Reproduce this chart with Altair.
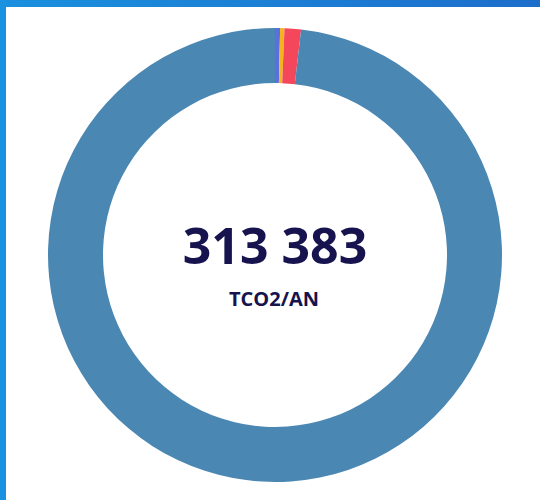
import altair as alt
import pandas as pd

categories = ["Catégorie A", "Catégorie B", "Catégorie C", "Catégorie D"]
values = [1130, 960, 3660, 307633]
colors = ["#5b6fe0", "#f6b31a", "#f4475b", "#4b87b3"]
total_label = ["313 383"]
unit_label = ["TCO2/AN"]

df = pd.DataFrame({"cat": categories, "value": values, "idx": list(range(len(categories)))})

W, H = 540, 500
CX, CY = 275, 255

frame_top = alt.Chart(pd.DataFrame({"k": [0]})).mark_rect(
    color=alt.Gradient(
        gradient="linear",
        stops=[alt.GradientStop(color="#1a90de", offset=0),
               alt.GradientStop(color="#1d6ecb", offset=1)],
        x1=0, x2=1, y1=0, y2=0,
    )
).encode(x=alt.value(0), x2=alt.value(W), y=alt.value(0), y2=alt.value(7))

frame_left = alt.Chart(pd.DataFrame({"k": [0]})).mark_rect(color="#1a92df").encode(
    x=alt.value(0), x2=alt.value(6), y=alt.value(0), y2=alt.value(H)
)

donut = alt.Chart(df).mark_arc(outerRadius=227, innerRadius=172).encode(
    theta=alt.Theta("value:Q", stack=True),
    order=alt.Order("idx:Q"),
    color=alt.Color("cat:N", scale=alt.Scale(domain=categories, range=colors), legend=None),
    x=alt.value(CX),
    y=alt.value(CY),
)

t1 = alt.Chart(pd.DataFrame({"t": total_label})).mark_text(
    font="Open Sans", fontWeight="bold", fontSize=50, color="#16134f", baseline="middle", align="center"
).encode(text="t:N", x=alt.value(CX), y=alt.value(249))

t2 = alt.Chart(pd.DataFrame({"t": unit_label})).mark_text(
    font="Open Sans", fontWeight="bold", fontSize=20, color="#16134f", baseline="middle", align="center"
).encode(text="t:N", x=alt.value(CX - 1), y=alt.value(300))

chart = alt.layer(frame_top, frame_left, donut, t1, t2).properties(
    width=W, height=H, autosize=alt.AutoSizeParams(type="none"), padding=0, background="white"
).configure_view(stroke=None)

chart.save("out.html", embed_options={"renderer": "svg", "actions": False})
